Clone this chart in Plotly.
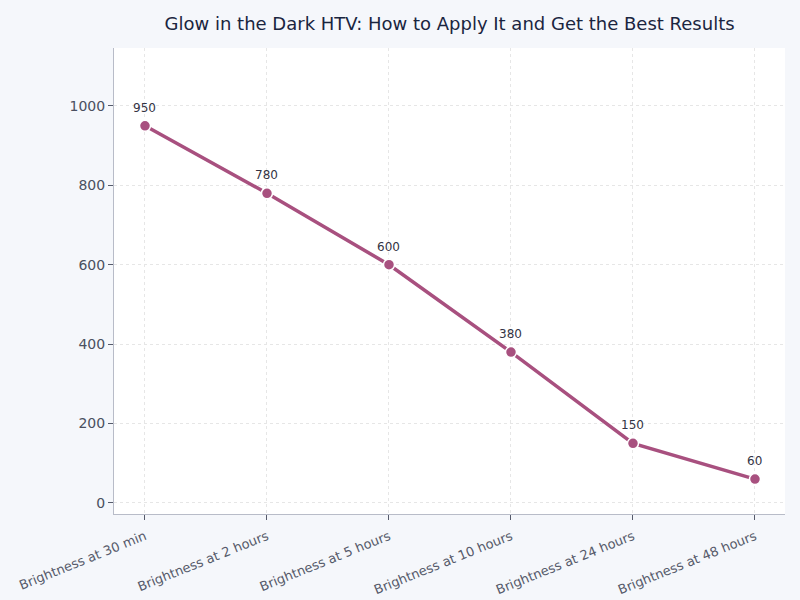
import plotly.graph_objects as go

categories = ["Brightness at 30 min", "Brightness at 2 hours", "Brightness at 5 hours",
              "Brightness at 10 hours", "Brightness at 24 hours", "Brightness at 48 hours"]
values = [950, 780, 600, 380, 150, 60]
y_ticks = [0, 200, 400, 600, 800, 1000]

fig = go.Figure()
fig.add_trace(go.Scatter(
    x=categories, y=values, mode="lines+markers",
    line=dict(color="#a8507f", width=3.5),
    marker=dict(size=11, color="#a8507f", line=dict(color="white", width=1.5)),
    cliponaxis=False, showlegend=False,
))
for c, v in zip(categories, values):
    fig.add_annotation(x=c, y=v, text=str(v), showarrow=False, yshift=18,
                       font=dict(size=12, color="#333344", family="DejaVu Sans"))
fig.update_layout(
    width=800, height=600,
    margin=dict(l=114, r=15, t=48, b=86),
    paper_bgcolor="#f5f7fb", plot_bgcolor="white",
    font=dict(family="DejaVu Sans", color="#4a5060"),
    title=dict(text="Glow in the Dark HTV: How to Apply It and Get the Best Results",
               x=0.562, xanchor="center", y=0.961, yanchor="middle",
               font=dict(size=18, color="#1a2540")),
)
fig.update_xaxes(
    range=[-0.254, 5.246], tickangle=-22, tickfont=dict(size=13, color="#555a6a"),
    showgrid=True, gridcolor="#e6e6e6", griddash="3px,3px", gridwidth=1,
    showline=True, linecolor="#b8bcc8", linewidth=1, automargin=False,
    ticks="outside", tickcolor="#555a6a", ticklen=5, zeroline=False,
    ticklabelstandoff=4,
)
fig.update_yaxes(
    range=[-28, 1146], tickvals=y_ticks, tickfont=dict(size=14, color="#4a5060"),
    showgrid=True, gridcolor="#e6e6e6", griddash="3px,3px", gridwidth=1,
    showline=True, linecolor="#b8bcc8", linewidth=1, automargin=False,
    ticks="outside", tickcolor="#555a6a", ticklen=5, zeroline=False,
)
fig.write_html("out.html")
